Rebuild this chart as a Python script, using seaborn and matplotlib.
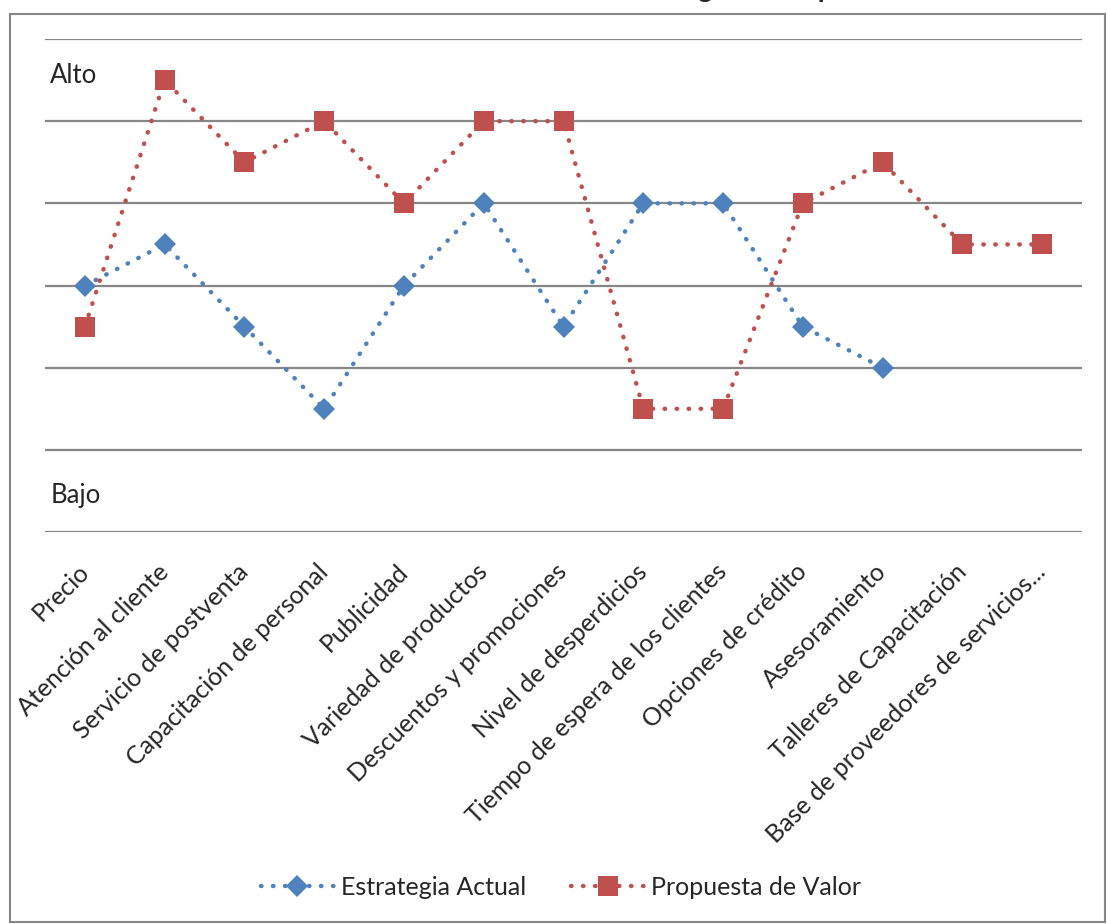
import numpy as np
import pandas as pd
import seaborn as sns
from matplotlib import pyplot as plt
from matplotlib.patches import Rectangle

categorias = ['Precio', 'Atención al cliente', 'Servicio de postventa',
              'Capacitación de personal', 'Publicidad', 'Variedad de productos',
              'Descuentos y promociones', 'Nivel de desperdicios',
              'Tiempo de espera de los clientes', 'Opciones de crédito',
              'Asesoramiento', 'Talleres de Capacitación',
              'Base de proveedores de servicios...']
estrategia_actual = [3, 3.5, 2.5, 1.5, 3, 4, 2.5, 4, 4, 2.5, 2, np.nan, np.nan]
propuesta_valor = [2.5, 5.5, 4.5, 5, 4, 5, 5, 1.5, 1.5, 4, 4.5, 3.5, 3.5]
titulo = 'Lienzo de Estrategia vs Propuesta de Valor'

if __name__ == '__main__':
    sns.set_style('white')
    plt.rcParams['font.family'] = ['Lato', 'DejaVu Sans']

    df = pd.DataFrame({'pos': np.arange(len(categorias)),
                       'actual': estrategia_actual,
                       'propuesta': propuesta_valor})

    fig = plt.figure(figsize=(11.07, 9.24), dpi=100)
    ax = fig.add_axes([0.0407, 0.4242, 0.9367, 0.5336])

    azul = '#4F81BD'
    rojo = '#C0504D'
    punteado = (0, (0.1, 2.6))

    sns.lineplot(data=df, x='pos', y='actual', ax=ax, color=azul, lw=3.2,
                 linestyle=punteado, dash_capstyle='round', marker='D',
                 markersize=11, markeredgewidth=0, label='Estrategia Actual')
    sns.lineplot(data=df, x='pos', y='propuesta', ax=ax, color=rojo, lw=3.2,
                 linestyle=punteado, dash_capstyle='round', marker='s',
                 markersize=14, markeredgewidth=0, label='Propuesta de Valor')

    ax.set_xlim(-0.5, len(categorias) - 0.5)
    ax.set_ylim(0, 6)
    ax.set_yticks(range(7))
    ax.set_yticklabels([])
    ax.yaxis.grid(True, color='#868686', lw=1.6)
    ax.xaxis.grid(False)
    for s in ax.spines.values():
        s.set_visible(False)
    ax.set_xlabel('')
    ax.set_ylabel('')

    ax.set_xticks(range(len(categorias)))
    ax.set_xticklabels(categorias, rotation=45, ha='right', va='center',
                       rotation_mode='anchor', fontsize=18)
    ax.tick_params(axis='x', length=0, pad=26)
    ax.tick_params(axis='y', length=0)

    ax.text(0.005, 5.55, 'Alto', fontsize=18.5, va='center',
            transform=ax.get_yaxis_transform())
    ax.text(0.005, 0.45, 'Bajo', fontsize=18.5, va='center',
            transform=ax.get_yaxis_transform())

    ax.legend(loc='center', bbox_to_anchor=(0.507, 0.04),
              bbox_transform=fig.transFigure, ncol=2, frameon=False,
              fontsize=18, handlelength=2.9, handletextpad=0.3,
              columnspacing=1.8)

    fig.text(0.676, 1.003, titulo, fontsize=20, fontweight='bold',
             ha='center', va='baseline')

    fig.patches.append(Rectangle((0.009, 0.002), 0.989, 0.983,
                                 transform=fig.transFigure, fill=False,
                                 edgecolor='#868686', lw=1.5))

    plt.savefig('out.png', dpi=100)
